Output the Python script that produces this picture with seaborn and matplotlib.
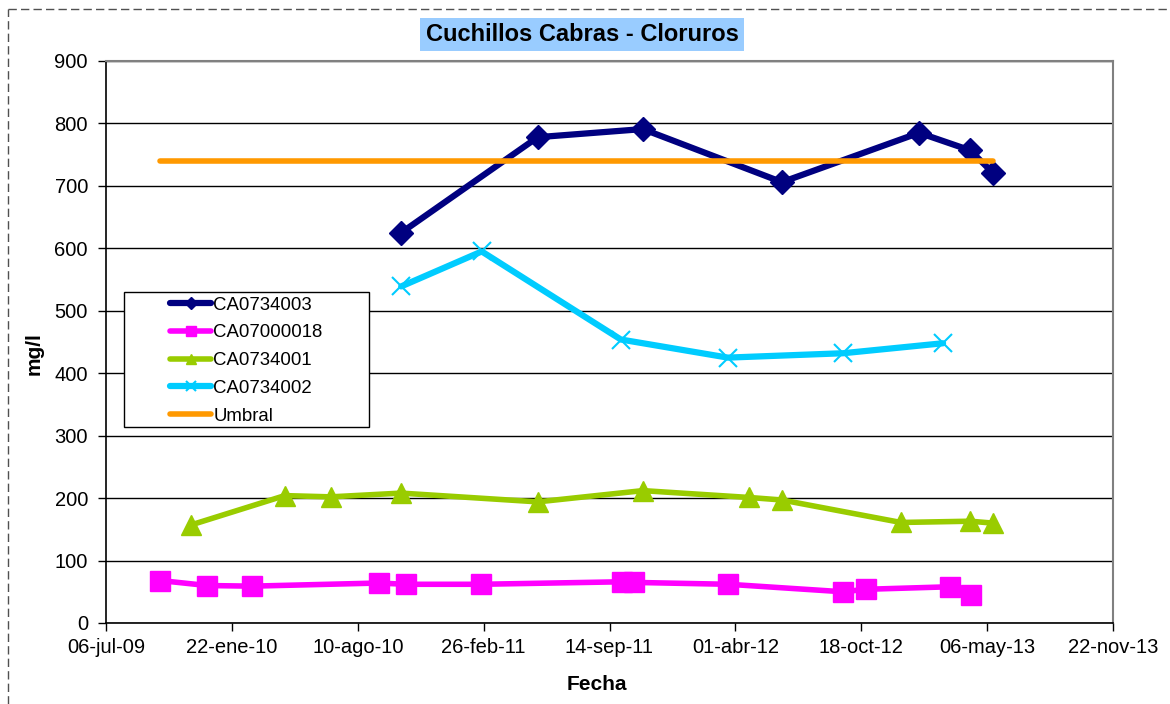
import matplotlib.pyplot as plt
from matplotlib.lines import Line2D
from matplotlib.patches import Rectangle
import pandas as pd
import seaborn as sns

# chart text
title = "Cuchillos Cabras - Cloruros"
x_label = "Fecha"
y_label = "mg/l"

# series (fecha, mg/l)
ca0734003_dates = ["2010-10-18", "2011-05-23", "2011-11-06", "2012-06-14",
                   "2013-01-18", "2013-04-09", "2013-05-15"]
ca0734003_vals = [625, 778, 791, 706, 785, 757, 721]

ca07000018_dates = ["2009-09-30", "2009-12-14", "2010-02-23", "2010-09-12",
                    "2010-10-26", "2011-02-22", "2011-10-04", "2011-10-23",
                    "2012-03-21", "2012-09-19", "2012-10-26", "2013-03-08",
                    "2013-04-11"]
ca07000018_vals = [68, 60, 59, 64, 62, 62, 66, 65, 62, 50, 54, 58, 45]

ca0734001_dates = ["2009-11-18", "2010-04-16", "2010-06-28", "2010-10-18",
                   "2011-05-23", "2011-11-06", "2012-04-23", "2012-06-14",
                   "2012-12-20", "2013-04-09", "2013-05-15"]
ca0734001_vals = [157, 204, 202, 208, 194, 212, 201, 197, 161, 163, 160]

ca0734002_dates = ["2010-10-18", "2011-02-23", "2011-10-02", "2012-03-20",
                   "2012-09-19", "2013-02-25"]
ca0734002_vals = [539, 595, 454, 425, 432, 448]

umbral_dates = ["2009-09-30", "2013-05-15"]
umbral_vals = [740, 740]

x_start, x_end = "2009-07-06", "2013-11-22"
x_tick_labels = ["06-jul-09", "22-ene-10", "10-ago-10", "26-feb-11", "14-sep-11",
                 "01-abr-12", "18-oct-12", "06-may-13", "22-nov-13"]
y_ticks = [0, 100, 200, 300, 400, 500, 600, 700, 800, 900]

sns.set_style("ticks")
plt.rcParams["font.family"] = ["Liberation Sans", "DejaVu Sans"]
plt.rcParams["text.color"] = "black"
plt.rcParams["axes.labelcolor"] = "black"

W, H = 1170, 704
fig = plt.figure(figsize=(W / 100, H / 100), dpi=100)
ax = fig.add_axes([106 / W, 1 - 623 / H, (1113 - 106) / W, (623 - 61) / H])

series = [
    ("CA0734003", ca0734003_dates, ca0734003_vals, "#000080", "D", 12, 4.5, 1.0),
    ("CA07000018", ca07000018_dates, ca07000018_vals, "#FF00FF", "s", 14.5, 4.0, 1.0),
    ("CA0734001", ca0734001_dates, ca0734001_vals, "#99CC00", "^", 14.5, 4.0, 1.0),
    ("CA0734002", ca0734002_dates, ca0734002_vals, "#00CCFF", "x", 13, 4.5, 1.5),
    ("Umbral", umbral_dates, umbral_vals, "#FF9900", None, 0, 4.0, 1.0),
]

for i, (name, dates, vals, color, marker, ms, lw, mew) in enumerate(series):
    df = pd.DataFrame({"fecha": pd.to_datetime(dates), "valor": vals})
    kws = dict(marker=marker, markersize=ms, markeredgecolor=color,
               markeredgewidth=mew) if marker else {}
    sns.lineplot(data=df, x="fecha", y="valor", ax=ax, color=color, linewidth=lw,
                 label=name, estimator=None, sort=False, zorder=3 + i * 0.1,
                 solid_joinstyle="round", **kws)

ax.set_xlim(pd.Timestamp(x_start), pd.Timestamp(x_end))
ax.set_xticks(pd.date_range(x_start, x_end, freq="200D"))
ax.set_xticklabels(x_tick_labels)
ax.set_ylim(0, 900)
ax.set_yticks(y_ticks)

ax.grid(axis="y", color="black", linewidth=1)
ax.grid(axis="x", visible=False)
ax.set_axisbelow(True)
for side in ("left", "bottom"):
    ax.spines[side].set_color("black")
    ax.spines[side].set_linewidth(1.2)
for side in ("top", "right"):
    ax.spines[side].set_visible(True)
    ax.spines[side].set_color("#808080")
    ax.spines[side].set_linewidth(1.5)

ax.tick_params(axis="both", direction="out", length=6, width=1, colors="black",
               labelsize=14.5)
ax.tick_params(axis="y", pad=7)
ax.tick_params(axis="x", pad=5)

ax.set_xlabel(x_label, fontsize=15, fontweight="bold", color="black")
ax.set_ylabel(y_label, fontsize=15, fontweight="bold", color="black")
ax.xaxis.set_label_coords(0.487, -0.092)
ax.yaxis.set_label_coords(-0.062, 0.48)

# legend with an Excel-like box
ax.add_patch(Rectangle((0.01787, 0.3488), 0.2433, 0.2402, transform=ax.transAxes,
                       facecolor="white", edgecolor="black", linewidth=1, zorder=6))
leg = ax.legend(loc="upper left", bbox_to_anchor=(0.0636, 0.581), frameon=False,
                borderpad=0, borderaxespad=0, handlelength=2.2, handletextpad=0.12,
                labelspacing=0.58, fontsize=13.4, markerscale=0.5)
leg.set_zorder(7)
for txt in leg.get_texts():
    txt.set_color("black")

fig.text(582 / W, 1 - 34.5 / H, title, ha="center", va="center", fontsize=17,
         fontweight="bold", color="black",
         bbox=dict(boxstyle="square,pad=0.22", facecolor="#99CCFF", edgecolor="none"))

# dashed chart-area border (top and left visible)
border = dict(transform=fig.transFigure, color="#505050", linewidth=1,
              linestyle=(0, (6, 3)))
fig.add_artist(Line2D([8 / W, 1], [1 - 9 / H, 1 - 9 / H], **border))
fig.add_artist(Line2D([8 / W, 8 / W], [0, 1 - 9 / H], **border))

fig.savefig("out.png", dpi=100, facecolor="white")
